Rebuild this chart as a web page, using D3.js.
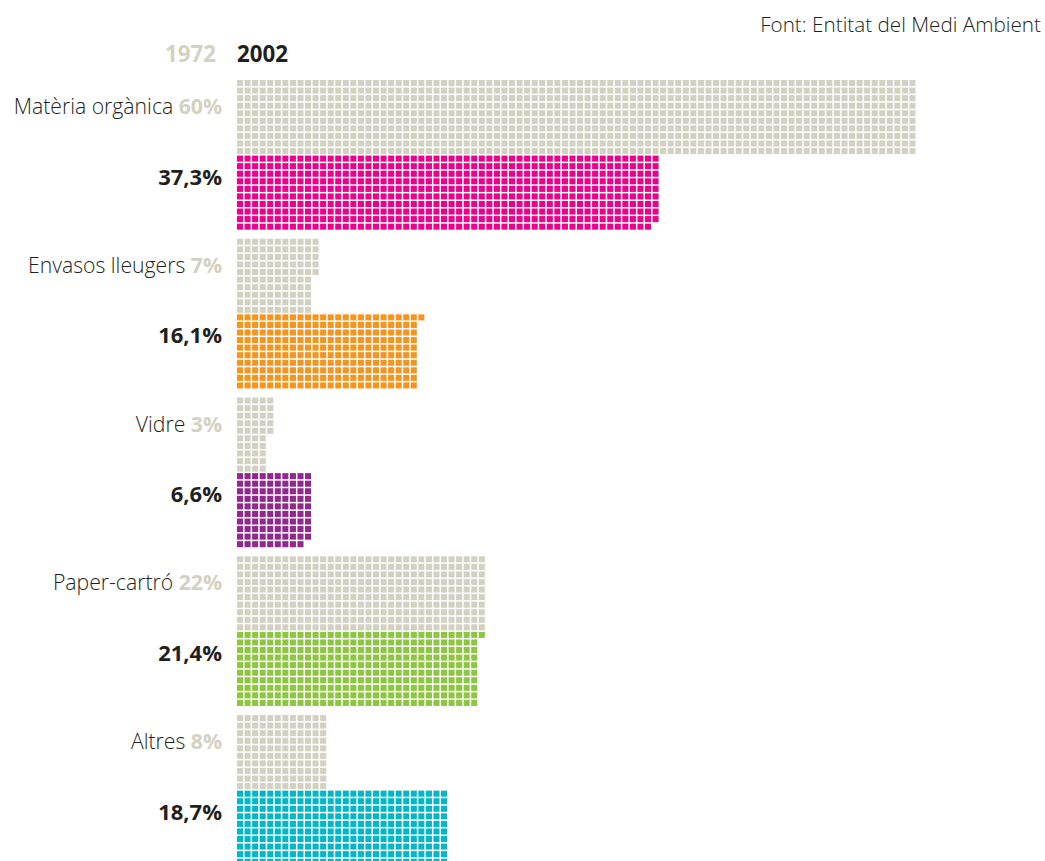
<!DOCTYPE html>
<html>
<head>
<meta charset="utf-8">
<script src="https://cdnjs.cloudflare.com/ajax/libs/d3/7.8.5/d3.min.js"></script>
<style>
  body { margin: 0; background: #fff; }
  svg { display: block; font-family: "Open Sans", Lato, sans-serif; }
</style>
</head>
<body>
<div id="chart"></div>
<script>
// Data
const categories = ["Matèria orgànica", "Envasos lleugers", "Vidre", "Paper-cartró", "Altres"]
const values1972 = [60, 7, 3, 22, 8]
const values2002 = [37.3, 16.1, 6.6, 21.4, 18.7]
const labels1972 = ["60%", "7%", "3%", "22%", "8%"]
const labels2002 = ["37,3%", "16,1%", "6,6%", "21,4%", "18,7%"]
const years = ["1972", "2002"]
const colors2002 = ["#ec008c", "#f7941d", "#92278f", "#8dc63f", "#00b8c8"]
const source = "Font: Entitat del Medi Ambient"

const width = 1045
const height = 861
const grey = "#d3d1c2"
const dark = "#231f20"
const cellsPerPct = 15
const rows = 10

const svg = d3.select('#chart')
    .append('svg')
    .attr('width', width)
    .attr('height', height)

// column / row scales for the waffle cells
const xScale = d3.scaleLinear()
    .domain([0, 90])
    .range([237, 917])
const yScale = d3.scaleLinear()
    .domain([0, 1])
    .range([80, 87.56])
const pitch = xScale(1) - xScale(0)
const cellSize = pitch - 1.5

// build cell lists, filled column by column, top to bottom
const makeCells = (value, rowOffset, color) => {
    const n = Math.floor(value * cellsPerPct + 1e-6)
    const cells = []
    for (let i = 0; i < n; i++) {
        cells.push({ col: Math.floor(i / rows), row: rowOffset + (i % rows), color: color })
    }
    return cells
}

let allCells = []
categories.forEach((c, i) => {
    const base = i * 21
    allCells = allCells.concat(makeCells(values1972[i], base, grey))
    allCells = allCells.concat(makeCells(values2002[i], base + rows, colors2002[i]))
})

svg.append('g')
    .selectAll('rect')
    .data(allCells)
    .enter()
    .append('rect')
    .attr('x', d => xScale(d.col))
    .attr('y', d => yScale(d.row))
    .attr('width', cellSize)
    .attr('height', cellSize)
    .attr('fill', d => d.color)

// Labels
const labelX = 222
categories.forEach((c, i) => {
    const base = i * 21
    const t = svg.append('text')
        .attr('x', labelX)
        .attr('y', yScale(base) + 34)
        .attr('text-anchor', 'end')
        .style('font-size', '21.2px')
    t.append('tspan')
        .attr('fill', dark)
        .style('font-weight', 300)
        .text(c + ' ')
    t.append('tspan')
        .attr('fill', grey)
        .style('font-weight', 700)
        .text(labels1972[i])

    svg.append('text')
        .attr('x', labelX)
        .attr('y', yScale(base + rows) + 29)
        .attr('text-anchor', 'end')
        .attr('fill', dark)
        .style('font-size', '22px')
        .style('font-weight', 700)
        .text(labels2002[i])
})

// Year header
svg.append('text')
    .attr('x', 216)
    .attr('y', 62)
    .attr('text-anchor', 'end')
    .attr('fill', grey)
    .style('font-size', '22.3px')
    .style('font-weight', 700)
    .text(years[0])
svg.append('text')
    .attr('x', 237)
    .attr('y', 62)
    .attr('fill', dark)
    .style('font-size', '22.3px')
    .style('font-weight', 700)
    .text(years[1])

// Source
svg.append('text')
    .attr('x', 1041)
    .attr('y', 32)
    .attr('text-anchor', 'end')
    .attr('fill', dark)
    .style('font-size', '20.7px')
    .style('font-weight', 300)
    .text(source)
</script>
</body>
</html>
